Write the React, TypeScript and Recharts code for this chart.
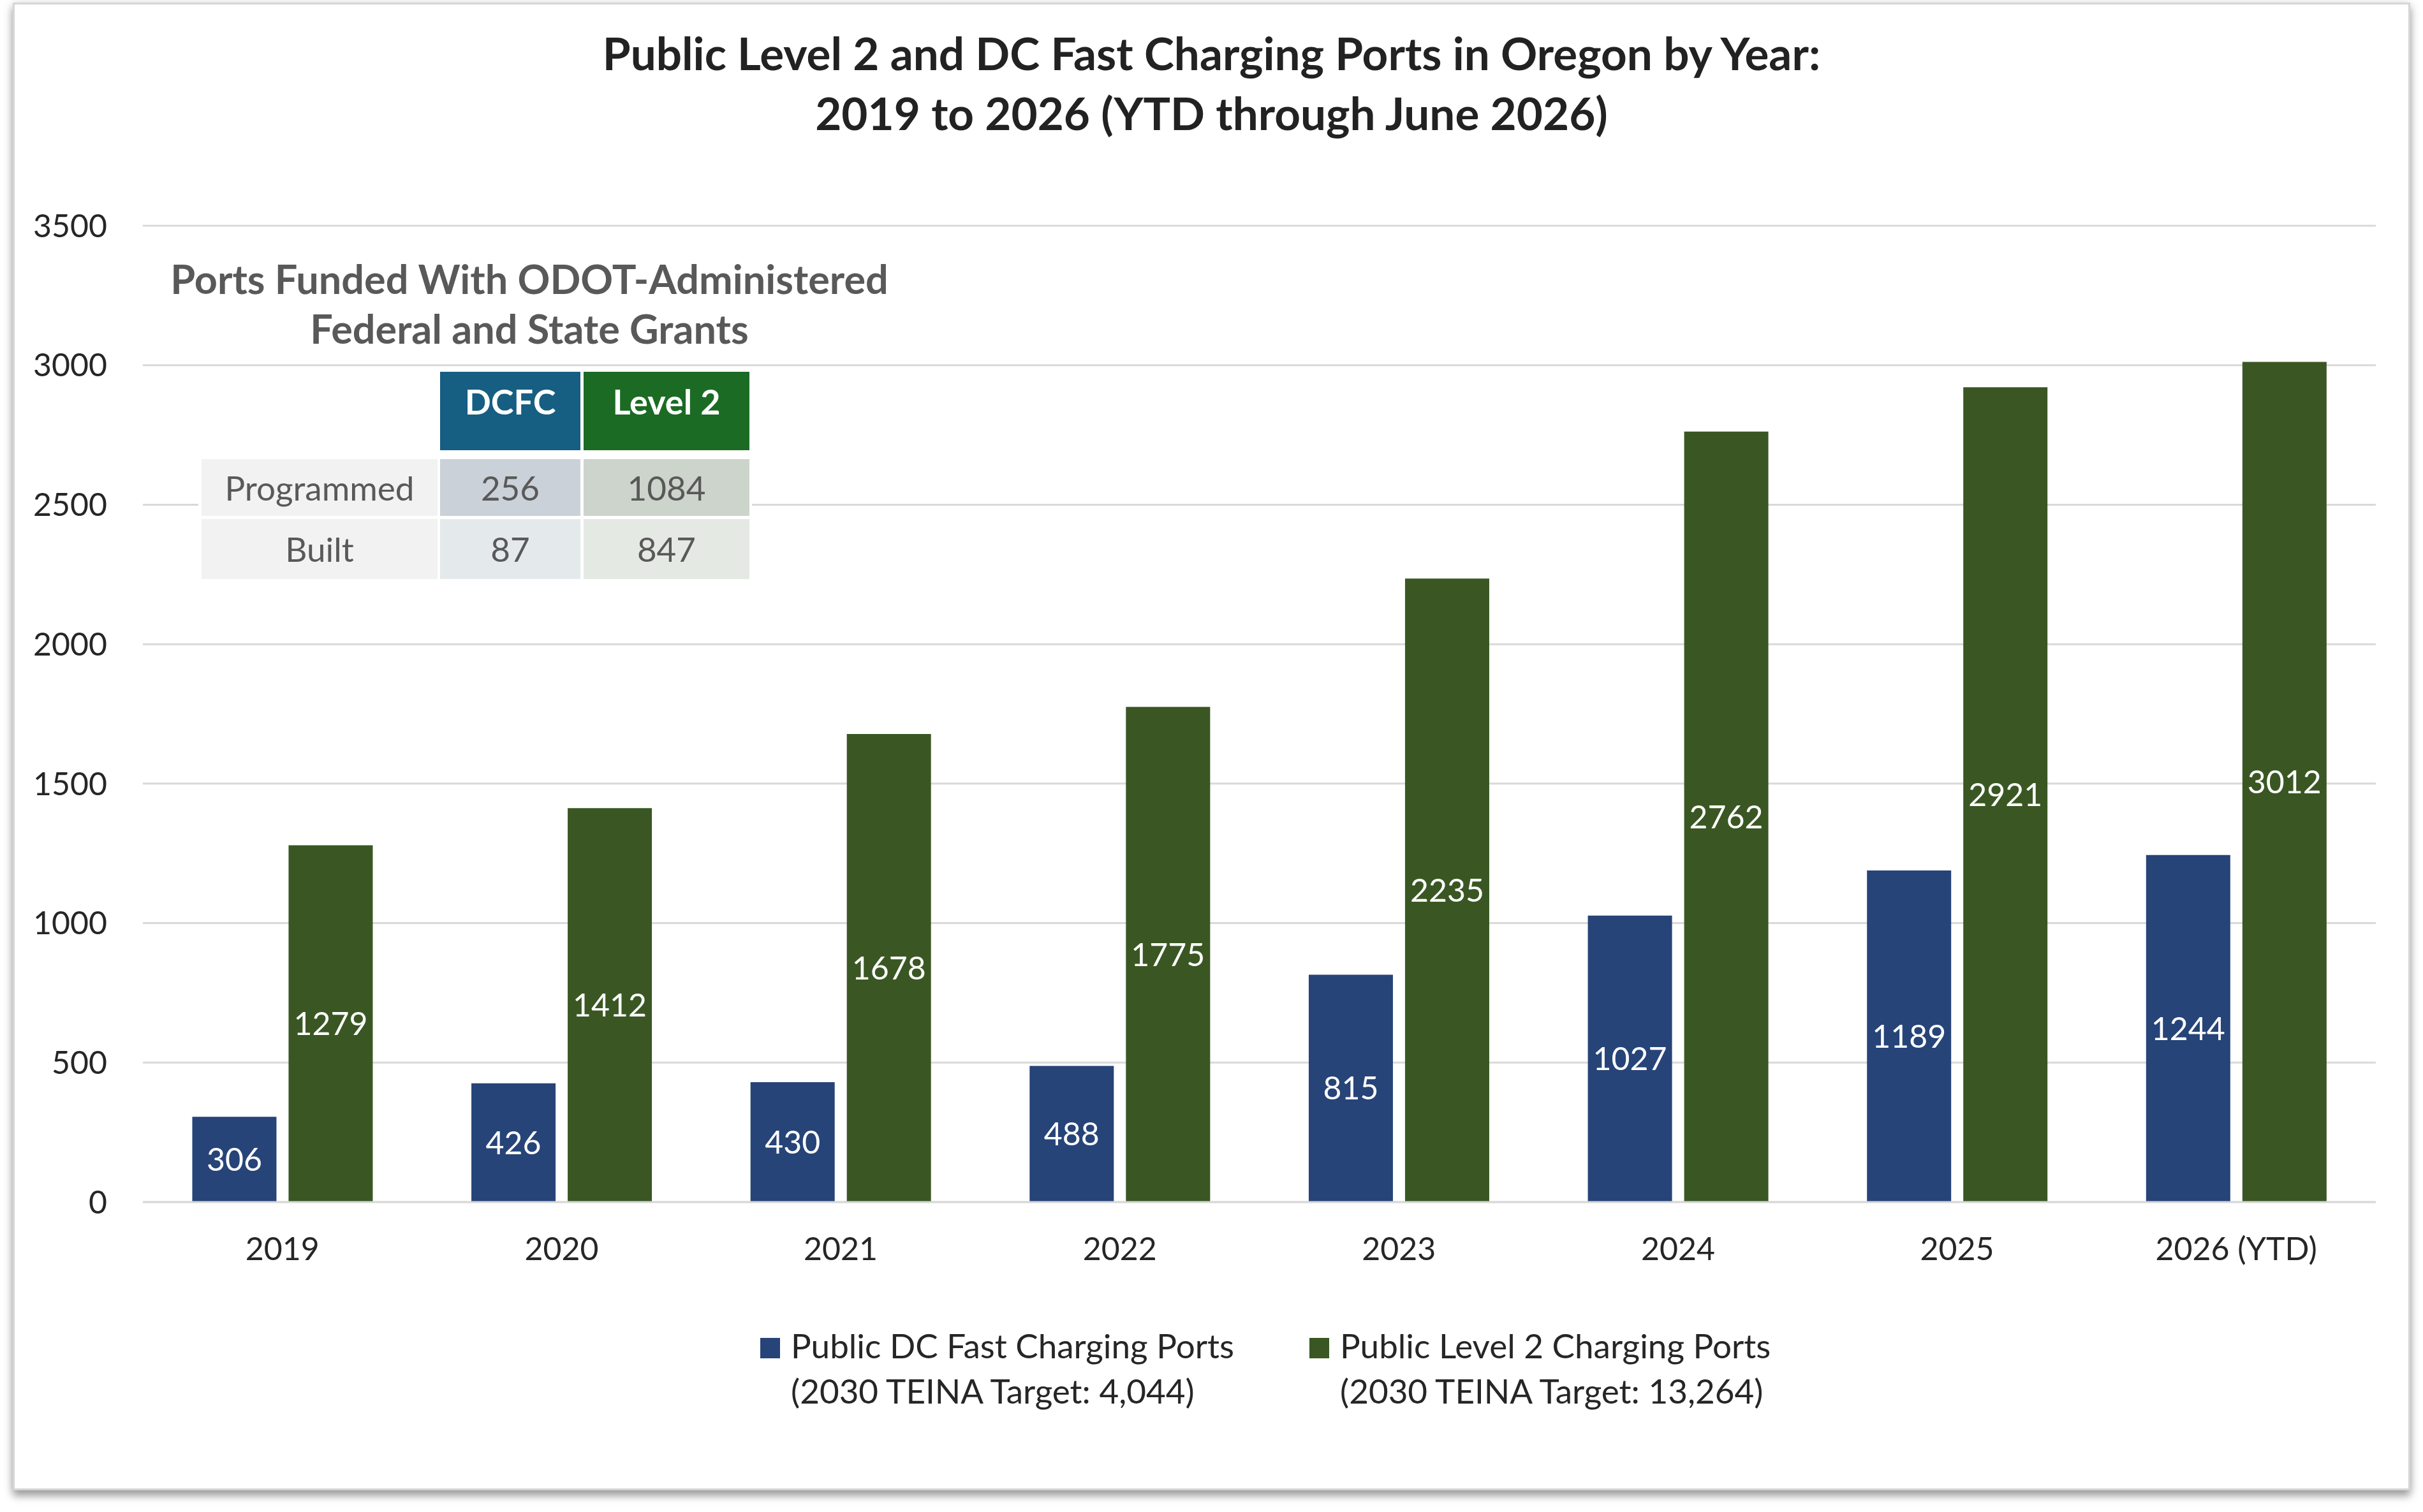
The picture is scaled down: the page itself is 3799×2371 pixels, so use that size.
import React from "react";
import { BarChart, Bar, XAxis, YAxis, CartesianGrid, Legend, LabelList } from "recharts";

// Yearly public charging port counts in Oregon
const years = ["2019", "2020", "2021", "2022", "2023", "2024", "2025", "2026 (YTD)"];
const dcFastPorts = [306, 426, 430, 488, 815, 1027, 1189, 1244];
const level2Ports = [1279, 1412, 1678, 1775, 2235, 2762, 2921, 3012];
const yTicks = [0, 500, 1000, 1500, 2000, 2500, 3000, 3500];

// Legend text (two lines per series)
const seriesNames = ["Public DC Fast Charging Ports", "Public Level 2 Charging Ports"];
const seriesTargets = ["(2030 TEINA Target: 4,044)", "(2030 TEINA Target: 13,264)"];

// Grant-funded ports inset table
const fundedColumns = ["DCFC", "Level 2"];
const fundedRows = ["Programmed", "Built"];
const fundedDcfc = [256, 87];
const fundedLevel2 = [1084, 847];

const BLUE = "#264478";
const GREEN = "#3A5723";
const FONT = "Lato, 'Open Sans', sans-serif";

const data = years.map((y, i) => ({ year: y, dc: dcFastPorts[i], l2: level2Ports[i] }));

const legendX = [1192, 2053];

function ChartLegend() {
  const colors = [BLUE, GREEN];
  return (
    <div style={{ position: "relative", width: 3799, height: 150, fontFamily: FONT }}>
      {seriesNames.map((name, i) => (
        <div key={name} style={{ position: "absolute", left: legendX[i], top: 0 }}>
          <div
            style={{
              position: "absolute",
              left: 0,
              top: 24,
              width: 31,
              height: 32,
              background: colors[i],
            }}
          />
          <div
            style={{
              position: "absolute",
              left: 48,
              top: 0,
              fontSize: 53,
              lineHeight: "71px",
              color: "#262626",
              whiteSpace: "nowrap",
              textAlign: "left",
            }}
          >
            <div>{name}</div>
            <div>{seriesTargets[i]}</div>
          </div>
        </div>
      ))}
    </div>
  );
}

function FundedTable() {
  const colX = [316, 690, 915];
  const colW = [370, 220, 260];
  const rowY = [583, 720, 814];
  const rowH = [123, 89, 94];
  const headerBg = ["#165E82", "#1B6B24"];
  const bodyBg = [
    ["#F2F2F2", "#CBD1D9", "#CCD4CC"],
    ["#F2F2F2", "#E4E9EC", "#E5E9E4"],
  ];
  const cells: React.ReactNode[] = [];
  fundedColumns.forEach((c, j) => {
    cells.push(
      <div
        key={"h" + j}
        style={{
          position: "absolute",
          left: colX[j + 1],
          top: rowY[0],
          width: colW[j + 1],
          height: rowH[0],
          background: headerBg[j],
          color: "#ffffff",
          fontWeight: 700,
          fontSize: 54,
          textAlign: "center",
          lineHeight: "94px",
        }}
      >
        {c}
      </div>
    );
  });
  fundedRows.forEach((r, i) => {
    const vals = [r, String(fundedDcfc[i]), String(fundedLevel2[i])];
    vals.forEach((v, j) => {
      cells.push(
        <div
          key={"r" + i + "c" + j}
          style={{
            position: "absolute",
            left: colX[j],
            top: rowY[i + 1],
            width: colW[j],
            height: rowH[i + 1],
            background: bodyBg[i][j],
            color: "#595959",
            fontSize: 53,
            textAlign: "center",
            lineHeight: rowH[i + 1] + "px",
          }}
        >
          {v}
        </div>
      );
    });
  });
  return (
    <div style={{ position: "absolute", left: 0, top: 0, fontFamily: FONT }}>
      <div style={{ position: "absolute", left: 311, top: 579, width: 868, height: 334, background: "#ffffff" }} />
      {cells}
      <div
        style={{
          position: "absolute",
          left: 180,
          top: 398,
          width: 1300,
          textAlign: "center",
          fontWeight: 700,
          fontSize: 63,
          lineHeight: "78px",
          color: "#595959",
          whiteSpace: "nowrap",
        }}
      >
        <div>Ports Funded With ODOT-Administered</div>
        <div>Federal and State Grants</div>
      </div>
    </div>
  );
}

export default function App() {
  return (
    <div style={{ position: "absolute", left: 0, top: 0, width: 3799, height: 2371, background: "#ffffff", overflow: "hidden" }}>
      <div
        style={{
          position: "absolute",
          left: 20,
          top: 4,
          width: 3759,
          height: 2333,
          boxSizing: "border-box",
          border: "3px solid #d6d6d6",
          background: "#ffffff",
          boxShadow: "0 9px 12px rgba(0,0,0,0.35), 0 0 16px rgba(0,0,0,0.12)",
        }}
      />
      <div style={{ position: "absolute", left: 0, top: 0 }}>
        <BarChart
          width={3799}
          height={2371}
          data={data}
          margin={{ top: 354, right: 74, left: 0, bottom: 386 }}
          barCategoryGap="17.7%"
          barGap={19}
        >
          <CartesianGrid vertical={false} stroke="#d9d9d9" strokeWidth={3} />
          <XAxis
            dataKey="year"
            height={100}
            tickLine={false}
            tickSize={0}
            tickMargin={55}
            axisLine={{ stroke: "#d9d9d9", strokeWidth: 3 }}
            tick={{ fill: "#262626", fontSize: 50, fontFamily: FONT }}
            interval={0}
          />
          <YAxis
            width={224}
            domain={[0, 3500]}
            ticks={yTicks}
            axisLine={false}
            tickLine={false}
            tickSize={0}
            tickMargin={56}
            tick={{ fill: "#262626", fontSize: 50, fontFamily: FONT }}
          />
          <Legend
            layout="horizontal"
            verticalAlign="middle"
            align="center"
            wrapperStyle={{ position: "absolute", top: 2074, left: 0, width: 3799, height: 150 }}
            content={() => <ChartLegend />}
          />
          <Bar dataKey="dc" fill={BLUE} isAnimationActive={false}>
            <LabelList dataKey="dc" position="center" fill="#ffffff" fontSize={50} fontFamily={FONT} />
          </Bar>
          <Bar dataKey="l2" fill={GREEN} isAnimationActive={false}>
            <LabelList dataKey="l2" position="center" fill="#ffffff" fontSize={50} fontFamily={FONT} />
          </Bar>
        </BarChart>
      </div>
      <FundedTable />
      <div
        style={{
          position: "absolute",
          left: 0,
          top: 36,
          width: 3799,
          textAlign: "center",
          fontFamily: FONT,
          fontWeight: 700,
          fontSize: 71,
          lineHeight: "94px",
          color: "#222222",
        }}
      >
        <div>Public Level 2 and DC Fast Charging Ports in Oregon by Year:</div>
        <div>2019 to 2026 (YTD through June 2026)</div>
      </div>
    </div>
  );
}
